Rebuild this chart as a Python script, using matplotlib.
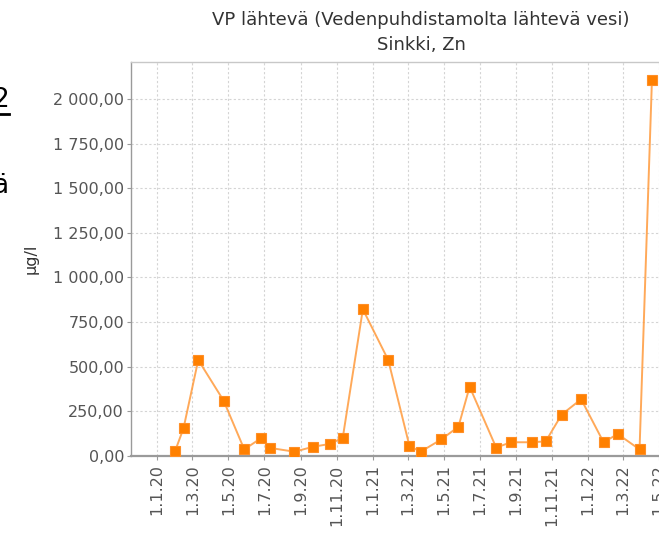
"""Sinkki, Zn — VP lähtevä: pitoisuus ajan funktiona (µg/l)."""

import matplotlib

matplotlib.use("Agg")
import matplotlib.dates as mdates
import matplotlib.pyplot as plt
from matplotlib.lines import Line2D
from matplotlib.ticker import FuncFormatter, MultipleLocator

# Näytteenottopäivät ja pitoisuudet (luettu kuvasta, arvioita)
sample_dates = [
    "2020-02-01", "2020-02-15", "2020-03-11", "2020-04-23", "2020-05-28",
    "2020-06-25", "2020-07-11", "2020-08-21", "2020-09-22", "2020-10-21",
    "2020-11-11", "2020-12-15", "2021-01-27", "2021-03-04", "2021-03-23",
    "2021-04-27", "2021-05-26", "2021-06-14", "2021-07-29", "2021-08-23",
    "2021-09-28", "2021-10-21", "2021-11-17", "2021-12-20", "2022-01-27",
    "2022-02-20", "2022-03-29", "2022-04-19",
]
zn_ugl = [
    30, 155, 538, 310, 37,
    99, 45, 24, 52, 68,
    103, 822, 538, 56, 24,
    93, 164, 388, 47, 77,
    77, 82, 232, 318, 77,
    123, 37, 2105,
]

TITLE_1 = "VP lähtevä (Vedenpuhdistamolta lähtevä vesi)"
TITLE_2 = "Sinkki, Zn"
Y_LABEL = "µg/l"

W, H = 659, 533
GRID = "#d4d4d4"
TICK_TXT = "#555555"
AXIS = "#9a9a9a"


def fmt_fi(v, _pos=None):
    return f"{v:,.2f}".replace(",", " ").replace(".", ",")


def fmt_date(x, _pos=None):
    d = mdates.num2date(x)
    return f"{d.day}.{d.month}.{d.year % 100}"


fig = plt.figure(figsize=(W / 100, H / 100), dpi=100)
fig.patch.set_facecolor("white")

# akseli jatkuu kuvan oikean reunan yli, kuten alkuperäisessä
ax = fig.add_axes([131 / W, (H - 456) / H, (695 - 131) / W, (456 - 62) / H])

x = mdates.datestr2num(sample_dates)
ax.plot(x, zn_ugl, color="#ff9a3c", lw=1.4, alpha=0.85, zorder=3)
ax.plot(x, zn_ugl, ls="none", marker="s", ms=6.8, mfc="#ff8000",
        mec="#ff8f26", mew=0.8, zorder=4)

ax.set_xlim(mdates.datestr2num("2019-11-18"), mdates.datestr2num("2022-07-01"))
ax.set_ylim(0, 2207)

ax.xaxis.set_major_locator(mdates.MonthLocator(bymonth=[1, 3, 5, 7, 9, 11]))
ax.xaxis.set_major_formatter(FuncFormatter(fmt_date))
ax.yaxis.set_major_locator(MultipleLocator(250))
ax.yaxis.set_major_formatter(FuncFormatter(fmt_fi))

ax.tick_params(axis="both", colors=AXIS, labelcolor=TICK_TXT, labelsize=11.5,
               length=3, width=0.8, direction="out")
ax.tick_params(axis="x", labelrotation=90, pad=3)
ax.tick_params(axis="y", pad=2)

ax.grid(True, color=GRID, lw=0.8, ls=(0, (2, 2)))
ax.set_axisbelow(True)
for side in ("left", "top", "right"):
    ax.spines[side].set_color("#c8c8c8")
    ax.spines[side].set_linewidth(1.0)
ax.spines["bottom"].set_color(AXIS)
ax.spines["bottom"].set_linewidth(1.6)
ax.spines["left"].set_color(AXIS)

fig.text(31 / W, 1 - 259 / H, Y_LABEL, rotation=90, ha="center", va="center",
         fontsize=11.5, color="#333333")
fig.text(421 / W, 1 - 20 / H, TITLE_1, ha="center", va="center", fontsize=13,
         color="#333333")
fig.text(421 / W, 1 - 45 / H, TITLE_2, ha="center", va="center", fontsize=13,
         color="#333333")

# reunan yli leikkautuneet sivun tekstit vasemmalla
fig.text(9 / W, 1 - 100 / H, "2", ha="right", va="center", fontsize=19, color="black")
fig.text(9 / W, 1 - 186 / H, "ä", ha="right", va="center", fontsize=19, color="black")
fig.add_artist(Line2D([0, 9 / W], [1 - 114 / H, 1 - 114 / H], color="black", lw=2))

fig.savefig("out.png", dpi=100)
